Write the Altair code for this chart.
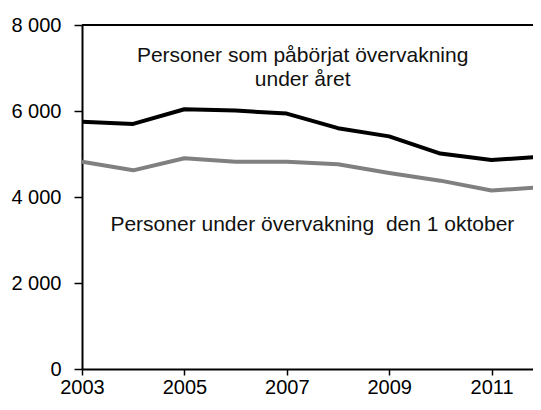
import altair as alt
import pandas as pd

years = [2003, 2004, 2005, 2006, 2007, 2008, 2009, 2010, 2011, 2012]
started = [5750, 5700, 6040, 6010, 5940, 5600, 5410, 5010, 4860, 4940]
supervised = [4820, 4620, 4900, 4820, 4820, 4760, 4560, 4380, 4150, 4230]

name_started = "Personer som påbörjat övervakning under året"
name_supervised = "Personer under övervakning den 1 oktober"

x_ticks = [2003, 2005, 2007, 2009, 2011]
y_ticks = [0, 2000, 4000, 6000, 8000]

ann_text = ["Personer som påbörjat övervakning", "under året",
            "Personer under övervakning\u00a0 den 1 oktober"]
ann_x = [2007.31, 2007.31, 2007.5]
ann_y = [7285, 6730, 3345]

df = pd.DataFrame({
    "year": years * 2,
    "value": started + supervised,
    "series": [name_started] * len(years) + [name_supervised] * len(years),
})
ann = pd.DataFrame({"text": ann_text, "year": ann_x, "value": ann_y})
top = pd.DataFrame({"value": [8000]})

FONT = "Liberation Sans"

# visible window ends a little before 2012 (the reference is cropped at the right)
xs = alt.Scale(domain=[2003, 2011.81], nice=False, zero=False)
ys = alt.Scale(domain=[0, 8000], nice=False)

lines = alt.Chart(df).mark_line(strokeWidth=4, strokeJoin="round", clip=True).encode(
    x=alt.X("year:Q", scale=xs, axis=alt.Axis(
        values=x_ticks, format="d", title=None, grid=False,
        tickSize=6, tickWidth=1.5, tickColor="black",
        domainColor="black", domainWidth=2,
        labelPadding=2, labelFontSize=20, labelFont=FONT, labelColor="black",
        labelFlush=False, labelOverlap=False)),
    y=alt.Y("value:Q", scale=ys, axis=alt.Axis(
        values=y_ticks, format=",d", labelExpr="replace(datum.label, ',', ' ')",
        title=None, grid=False,
        tickSize=8, tickWidth=1.5, tickColor="black",
        domainColor="black", domainWidth=2,
        labelPadding=13, labelFontSize=20, labelFont=FONT, labelColor="black")),
    color=alt.Color("series:N", scale=alt.Scale(
        domain=[name_started, name_supervised], range=["#000000", "#808080"]),
        legend=None),
)

border = alt.Chart(top).mark_rule(color="black", strokeWidth=2).encode(
    y=alt.Y("value:Q", scale=ys)
)

texts = alt.Chart(ann).mark_text(fontSize=21, font=FONT, color="#111111",
                                 align="center", baseline="middle").encode(
    x=alt.X("year:Q", scale=xs),
    y=alt.Y("value:Q", scale=ys),
    text="text:N",
)

chart = alt.layer(border, lines, texts).properties(
    width=451, height=344,
    autosize=alt.AutoSizeParams(type="none"),
    padding={"left": 74, "top": 17, "right": 0, "bottom": 29},
).configure_view(stroke=None).configure(background="white")

chart.save("out.html", embed_options={"renderer": "svg", "actions": False})
